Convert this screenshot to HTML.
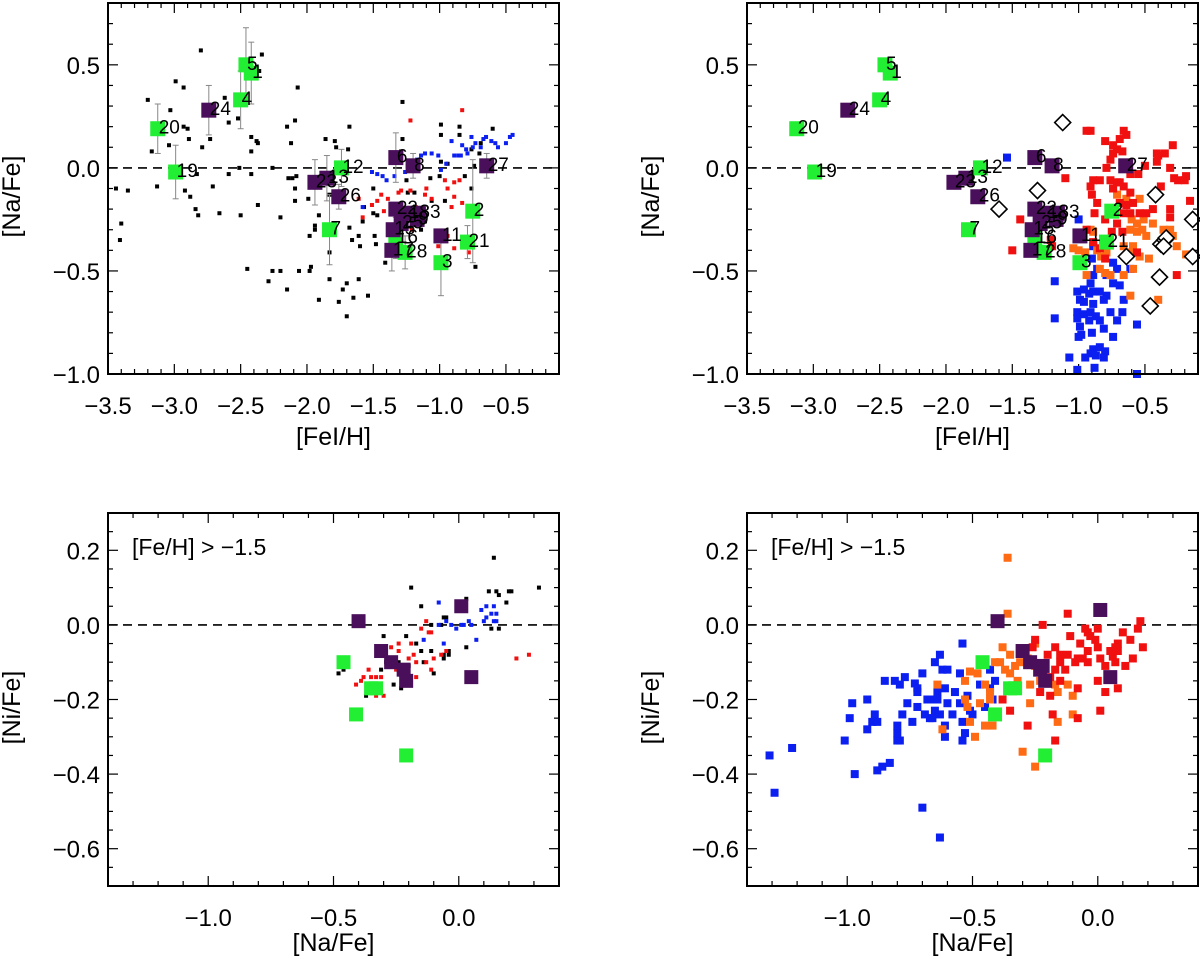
<!DOCTYPE html>
<html><head><meta charset="utf-8"><style>
html,body{margin:0;padding:0;background:#fff;}
svg{display:block;font-family:"Liberation Sans",sans-serif;}
</style></head><body>
<svg id="fig" width="1200" height="959" viewBox="0 0 1200 959" xmlns="http://www.w3.org/2000/svg"></svg>
<script>
// ---------- Shared labelled stars (top panels) ----------
const starGreenX=[-3.125,-2.99,-2.46,-2.42,-2.5,-1.83,-1.74,-0.75,-0.79,-0.99,-1.33,-1.26];
const starGreenY=[0.19,-0.02,0.50,0.46,0.33,-0.30,0.0,-0.21,-0.36,-0.46,-0.34,-0.41];
const starGreenLab=["20","19","5","1","4","7","12","2","21","3","16","28"];
const starPurpX=[-2.74,-1.94,-1.85,-1.76,-1.33,-1.2,-0.645,-1.33,-1.24,-1.16,-1.29,-1.35,-1.17,-0.99,-1.36];
const starPurpY=[0.28,-0.07,-0.05,-0.14,0.05,0.01,0.01,-0.2,-0.22,-0.22,-0.27,-0.30,-0.25,-0.33,-0.40];
const starPurpLab=["24","23","13","26","6","8","27","22","18","33","25","15","9","11","17"];
const errStar=[0.12,0.13,0.18,0.15,0.14,0.17,0.09,0.25,0.08,0.16,0.1,0.08];
const errPurp=[0.12,0.11,0.11,0.06,0.12,0.06,0.06,0,0,0,0,0,0,0,0.1];

// ---------- Top-left small samples ----------
const tlBlackX=[-3.44,-3.35,-3.4,-3.41,-3.2,-3.17,-3.13,-3.03,-3.04,-2.99,-2.93,-2.93,-2.9,-2.89,-2.83,-2.92,-2.88,-2.84,-2.82,-2.8,-2.79,-2.71,-2.73,-2.66,-2.62,-2.59,-2.59,-2.52,-2.51,-2.5,-2.5,-2.45,-2.42,-2.42,-2.42,-2.38,-2.37,-2.37,-2.34,-2.36,-2.29,-2.26,-2.2,-2.2,-2.15,-2.15,-2.12,-2.09,-2.07,-2.06,-2.14,-2.11,-2.09,-2.09,-2.08,-2.26,-1.98,-1.97,-1.98,-1.94,-1.94,-1.91,-1.99,-1.86,-1.83,-1.83,-1.83,-1.91,-1.78,-1.79,-1.76,-1.73,-1.7,-1.7,-1.69,-1.68,-1.68,-1.66,-1.65,-1.61,-1.6,-1.61,-1.54,-1.57,-1.58,-1.5,-1.5,-1.49,-1.48,-1.47,-1.41,-1.28,-1.28,-1.29,-1.25,-1.24,-1.19,-1.14,-1.11,-1.07,-1.06,-0.99,-0.99,-0.99,-1.0,-0.96,-0.94,-0.85,-0.85,-0.81,-0.76,-0.74,-0.73,-0.7,-0.6,-0.69,-0.76];
const tlBlackY=[-0.10,-0.11,-0.27,-0.35,0.33,0.08,-0.09,0.28,0.11,0.42,0.39,0.2,0.19,0.14,-0.03,-0.11,-0.14,-0.2,-0.23,0.57,0.1,-0.09,0.14,-0.22,0.34,0.22,-0.03,0.24,0.0,-0.23,0.52,-0.49,0.15,0.08,-0.03,0.13,0.12,-0.18,0.55,0.47,-0.55,-0.5,-0.5,-0.24,-0.59,0.2,0.12,0.23,0.39,-0.5,-0.05,-0.05,-0.1,-0.16,-0.04,0.0,-0.5,-0.48,-0.33,-0.28,-0.3,-0.23,-0.15,0.14,-0.13,-0.41,-0.54,-0.64,0.1,0.13,-0.65,-0.59,-0.56,-0.72,0.09,0.2,-0.29,-0.35,-0.63,-0.54,-0.38,-0.33,-0.62,-0.19,-0.26,-0.1,-0.22,-0.33,-0.37,-0.23,-0.46,0.32,0.14,0.08,-0.06,-0.12,-0.12,-0.3,-0.26,-0.05,-0.16,0.21,0.16,0.03,-0.04,-0.16,0.02,0.2,0.16,-0.04,-0.1,0.01,-0.48,0.07,0.19,0.12,0.09];
const tlBlueX=[-1.58,-1.51,-1.47,-1.43,-1.4,-1.34,-1.26,-1.24,-1.17,-1.14,-1.11,-1.06,-1.01,-0.95,-0.91,-0.89,-0.86,-0.84,-0.83,-0.8,-0.76,-0.75,-0.73,-0.69,-0.67,-0.65,-0.61,-0.58,-0.56,-0.5,-0.47,-0.45,-0.79,-0.99];
const tlBlueY=[-0.19,-0.02,-0.03,-0.04,-0.06,-0.04,-0.02,0.01,0.04,0.06,0.07,0.07,0.06,0.02,0.13,0.06,0.06,0.06,0.11,0.09,0.15,0.1,0.12,0.1,0.14,0.15,0.13,0.12,0.1,0.12,0.15,0.16,0.07,-0.01];
const tlRedX=[-1.22,-0.83,-1.61,-1.58,-1.51,-1.47,-1.44,-1.42,-1.39,-1.31,-1.29,-1.22,-1.18,-1.16,-1.11,-1.1,-1.06,-0.96,-0.94,-0.89,-0.89,-0.85,-0.83,-0.91,-0.94,-0.89,-0.78,-1.01,-1.21,-1.19];
const tlRedY=[0.23,0.28,-0.15,-0.24,-0.18,-0.16,-0.13,-0.21,-0.15,-0.12,-0.11,-0.11,-0.19,-0.25,-0.13,-0.1,-0.15,-0.06,-0.1,-0.07,-0.14,-0.06,-0.17,-0.19,-0.33,-0.39,-0.41,-0.38,-0.3,-0.23];

// ---------- Top-right samples ----------
const diamX=[-1.12,-1.6,-1.31,-0.42,-0.64,-0.39,-0.46,-0.38,-0.35,-0.34,-0.36,-0.14,-0.14];
const diamY=[0.22,-0.2,-0.11,-0.13,-0.43,-0.53,-0.67,-0.37,-0.35,-0.34,-0.38,-0.25,-0.43];
const trRedX=[-0.94,-0.91,-0.8,-0.74,-0.71,-0.66,-0.64,-0.69,-0.74,-0.67,-0.76,-0.79,-0.61,-0.55,-0.5,-0.41,-0.4,-0.35,-0.29,-0.41,-0.31,-0.28,-0.25,-0.19,-0.16,-0.2,-0.31,-0.26,-1.1,-1.44,-1.5,-0.91,-0.89,-0.9,-0.86,-0.84,-0.76,-0.74,-0.71,-0.66,-0.61,-0.69,-0.64,-0.61,-0.59,-0.54,-0.88,-0.8,-0.71,-0.66,-0.94,-0.89,-0.84,-0.75,-0.67,-0.8,-0.49,-0.44,-0.31,-0.38,-0.56,-1.21,-1.2,-0.69];
const trRedY=[0.18,0.18,0.13,0.11,0.09,0.18,0.16,0.14,0.07,0.08,0.04,0.0,-0.03,-0.03,0.01,0.07,0.06,0.07,0.11,0.03,0.0,-0.05,-0.06,-0.04,-0.16,-0.06,-0.24,-0.52,-0.05,-0.25,-0.4,-0.09,-0.06,-0.13,-0.17,-0.06,-0.06,-0.1,-0.07,-0.09,-0.12,-0.17,-0.18,-0.22,-0.17,-0.22,-0.22,-0.25,-0.27,-0.22,-0.3,-0.36,-0.39,-0.31,-0.31,-0.44,-0.22,-0.2,-0.2,-0.09,-0.41,-0.35,-0.38,-0.07];
const trOrX=[-0.91,-0.89,-1.04,-1.0,-0.95,-0.86,-0.83,-0.79,-0.94,-0.84,-0.8,-0.76,-0.74,-0.71,-0.64,-0.6,-0.56,-0.54,-0.51,-0.61,-0.56,-0.52,-0.49,-0.66,-0.61,-0.59,-0.54,-0.47,-0.59,-0.66,-0.61,-0.4,-0.44,-0.31,-0.29,-0.26,-0.19,-0.16,-0.36];
const trOrY=[-0.3,-0.31,-0.39,-0.4,-0.41,-0.4,-0.43,-0.41,-0.52,-0.49,-0.51,-0.52,-0.1,-0.13,-0.15,-0.25,-0.27,-0.15,-0.25,-0.3,-0.31,-0.3,-0.33,-0.38,-0.41,-0.38,-0.43,-0.44,-0.49,-0.52,-0.62,-0.64,-0.27,-0.3,-0.33,-0.38,-0.42,-0.42,-0.3];
const trBlueX=[-1.54,-1.0,-1.18,-1.18,-1.01,-0.96,-0.92,-0.89,-0.84,-0.79,-0.99,-0.96,-0.89,-0.81,-1.01,-0.96,-0.91,-0.87,-1.01,-0.99,-0.92,-0.84,-0.76,-0.71,-0.67,-0.66,-0.69,-0.74,-0.79,-0.89,-0.91,-0.86,-0.9,-0.74,-0.71,-1.0,-0.98,-0.9,-0.81,-0.74,-0.89,-0.84,-0.8,-0.91,-0.87,-0.81,-1.07,-0.95,-1.01,-0.88,-0.56,-0.56,-0.61,-0.89];
const trBlueY=[0.05,-0.25,-0.55,-0.73,-0.6,-0.59,-0.61,-0.6,-0.6,-0.62,-0.64,-0.65,-0.66,-0.64,-0.7,-0.71,-0.7,-0.72,-0.73,-0.77,-0.74,-0.74,-0.7,-0.74,-0.7,-0.64,-0.57,-0.56,-0.52,-0.52,-0.56,-0.49,-0.44,-0.46,-0.49,-0.82,-0.81,-0.8,-0.78,-0.82,-0.88,-0.87,-0.89,-0.9,-0.91,-0.92,-0.92,-0.92,-0.98,-0.97,-1.0,-0.76,-0.49,-0.38];

// ---------- Bottom-left ----------
const blPurpX=[-0.40,0.01,0.05,-0.31,-0.27,-0.22,-0.21];
const blPurpY=[0.01,0.05,-0.14,-0.07,-0.10,-0.12,-0.15];
const blGreenX=[-0.46,-0.35,-0.33,-0.41,-0.21];
const blGreenY=[-0.10,-0.17,-0.17,-0.24,-0.35];
const blBlackX=[-0.19,0.14,0.32,0.12,0.15,0.16,0.2,0.21,0.19,-0.15,0.03,0,-0.06,-0.05,-0.07,-0.11,0.03,0.13,0.16,-0.17,-0.21,-0.15,-0.11,-0.14,-0.1,-0.06,-0.04,-0.04,-0.3,-0.31,-0.29,-0.31,-0.26,-0.23,-0.24,-0.48,-0.46,-0.37,-0.34,-0.06,-0.2];
const blBlackY=[0.10,0.18,0.10,0.09,0.09,0.08,0.09,0.09,0.06,0.05,0.07,0.05,0.02,0.02,0.0,0.0,-0.06,-0.01,-0.01,-0.05,-0.03,-0.07,-0.07,-0.1,-0.13,-0.08,-0.08,-0.07,-0.03,-0.07,-0.1,-0.12,-0.16,-0.17,-0.1,-0.13,-0.12,-0.19,-0.18,-0.09,-0.11];
const blBlueX=[-0.08,-0.14,-0.06,-0.05,-0.03,-0.01,0.02,0.04,0.05,0.07,0.09,0.1,0.11,0.13,0.14,0.15,0.11,0.14,-0.08,0.01,0.15];
const blBlueY=[0.06,-0.04,-0.05,0.01,0.0,-0.01,0.0,0.01,0.0,-0.04,0.04,0.01,0.02,0.03,0.01,0.03,0.05,0.05,0.0,0.0,0.01];
const blRedX=[0.23,0.28,-0.13,-0.12,-0.11,-0.15,-0.24,-0.19,-0.24,-0.27,-0.2,-0.18,-0.17,-0.13,-0.1,-0.07,-0.05,-0.25,-0.22,-0.17,-0.2,-0.31,-0.33,-0.35,-0.38,-0.36,-0.41,-0.39,-0.33,-0.3,-0.11];
const blRedY=[-0.09,-0.08,0.01,-0.02,-0.02,-0.01,-0.05,-0.05,-0.07,-0.06,-0.09,-0.08,-0.1,-0.1,-0.09,-0.08,-0.07,-0.12,-0.13,-0.14,-0.15,-0.14,-0.14,-0.14,-0.14,-0.12,-0.16,-0.15,-0.19,-0.19,-0.12];

// ---------- Bottom-right ----------
const brPurpX=[-0.4,0.01,0.05,-0.3,-0.27,-0.22,-0.21,-0.23];
const brPurpY=[0.01,0.04,-0.14,-0.07,-0.1,-0.11,-0.15,-0.12];
const brGreenX=[-0.46,-0.35,-0.33,-0.41,-0.21];
const brGreenY=[-0.1,-0.17,-0.17,-0.24,-0.35];
const brBlueX=[-1.31,-1.29,-1.22,-1.01,-0.99,-0.98,-0.97,-0.92,-0.92,-0.9,-0.89,-0.88,-0.88,-0.86,-0.85,-0.83,-0.81,-0.8,-0.8,-0.79,-0.8,-0.79,-0.78,-0.77,-0.76,-0.74,-0.73,-0.72,-0.72,-0.72,-0.7,-0.7,-0.69,-0.68,-0.67,-0.66,-0.65,-0.65,-0.65,-0.64,-0.64,-0.63,-0.63,-0.63,-0.62,-0.61,-0.61,-0.61,-0.6,-0.6,-0.58,-0.57,-0.55,-0.55,-0.54,-0.54,-0.54,-0.53,-0.52,-0.51,-0.5,-0.47,-0.45,-0.43,-0.41,-0.43,-0.42];
const brBlueY=[-0.35,-0.45,-0.33,-0.31,-0.25,-0.21,-0.4,-0.2,-0.28,-0.26,-0.24,-0.26,-0.39,-0.38,-0.15,-0.37,-0.15,-0.27,-0.31,-0.31,-0.29,-0.16,-0.24,-0.14,-0.21,-0.26,-0.157,-0.17,-0.18,-0.22,-0.13,-0.49,-0.24,-0.2,-0.25,-0.25,-0.1,-0.2,-0.23,-0.18,-0.2,-0.24,-0.08,-0.57,-0.12,-0.17,-0.27,-0.3,-0.21,-0.12,-0.24,-0.18,-0.13,-0.21,-0.05,-0.26,-0.31,-0.29,-0.19,-0.23,-0.24,-0.16,-0.22,-0.12,-0.15,-0.17,-0.2];
const brOrX=[-0.36,-0.36,-0.38,-0.35,-0.25,-0.41,-0.39,-0.33,-0.37,-0.35,-0.51,-0.48,-0.53,-0.64,-0.45,-0.43,-0.53,-0.52,-0.47,-0.43,-0.27,-0.27,-0.23,-0.17,-0.16,-0.12,-0.1,-0.1,-0.51,-0.62,-0.49,-0.45,-0.42,-0.3,-0.25,-0.16,-0.32,-0.31,-0.28,-0.25];
const brOrY=[0.18,0.03,-0.06,-0.08,-0.05,-0.1,-0.1,-0.11,-0.12,-0.13,-0.125,-0.13,-0.15,-0.16,-0.16,-0.18,-0.2,-0.22,-0.21,-0.2,-0.21,-0.16,-0.15,-0.16,-0.18,-0.16,-0.19,-0.24,-0.26,-0.28,-0.3,-0.27,-0.27,-0.34,-0.38,-0.26,-0.15,-0.1,-0.09,-0.11];
const brRedX=[-0.12,-0.22,0.17,0.16,0.13,0.18,0.14,0.11,0.1,0.08,0.07,0.06,0.05,0.08,0.07,0.03,0.01,0,-0.01,0,-0.03,-0.05,-0.04,-0.07,-0.04,-0.04,-0.06,-0.08,-0.11,-0.09,-0.12,-0.15,-0.15,-0.17,-0.2,-0.25,-0.26,-0.17,-0.13,-0.19,-0.23,-0.19,-0.15,-0.08,0,0.03,0.08,0.01,-0.08,-0.18,-0.17,-0.28,-0.35,-0.38];
const brRedY=[0.03,0.0,0.01,-0.01,-0.04,-0.06,-0.09,-0.11,-0.02,-0.05,-0.06,-0.085,-0.07,-0.07,-0.1,-0.11,-0.09,-0.06,-0.04,-0.01,-0.03,-0.01,-0.02,-0.05,-0.07,-0.1,-0.09,-0.09,-0.03,-0.1,-0.08,-0.08,-0.1,-0.06,-0.08,-0.04,-0.06,-0.12,-0.12,-0.14,-0.18,-0.19,-0.15,-0.17,-0.15,-0.18,-0.17,-0.23,-0.25,-0.24,-0.31,-0.27,-0.23,-0.2];

const NS="http://www.w3.org/2000/svg";
const svg=document.getElementById('fig');
const C={black:"#000",blue:"#0b1ff0",red:"#f01010",orange:"#ff6a14",green:"#22ee33",purple:"#4a0f5a"};

function el(tag,attrs,parent){const e=document.createElementNS(NS,tag);for(const k in attrs)e.setAttribute(k,attrs[k]);(parent||svg).appendChild(e);return e;}

function panel(name,box,xr,yr,xt,yt,xminor,yminor,xtitle,ytitle,ytx,xtoff){
  const g=el('g',{});
  
  
  const sx=v=>box.l+(v-xr[0])/(xr[1]-xr[0])*(box.r-box.l);
  const sy=v=>box.b-(v-yr[0])/(yr[1]-yr[0])*(box.b-box.t);
  const P={g,sx,sy,box};
  const z=el('line',{x1:box.l,x2:box.r,y1:sy(0),y2:sy(0),stroke:'#000','stroke-width':1.6,'stroke-dasharray':'9,6'},g);
  
  
  const tg=el('g',{stroke:'#000','stroke-width':1.2},g);
  for(let v=Math.ceil(xr[0]/xminor-1e-6)*xminor;v<=xr[1]+1e-9;v+=xminor){
    const major=xt.some(t=>Math.abs(t-v)<1e-6);const L=major?10:5;const x=sx(v);
    el('line',{x1:x,x2:x,y1:box.b,y2:box.b-L},tg);el('line',{x1:x,x2:x,y1:box.t,y2:box.t+L},tg);
  }
  for(let v=Math.ceil(yr[0]/yminor-1e-6)*yminor;v<=yr[1]+1e-9;v+=yminor){
    const major=yt.some(t=>Math.abs(t-v)<1e-6);const L=major?10:5;const y=sy(v);
    el('line',{y1:y,y2:y,x1:box.l,x2:box.l+L},tg);el('line',{y1:y,y2:y,x1:box.r,x2:box.r-L},tg);
  }
  const fmt=v=>(v<0?'\u2212':'')+Math.abs(v).toFixed(1);
  xt.forEach(v=>{const t=el('text',{x:sx(v),y:box.b+40,'text-anchor':'middle','font-size':24},g);t.textContent=fmt(v);
    
    });
  yt.forEach(v=>{const t=el('text',{x:box.l-8,y:sy(v)+9,'text-anchor':'end','font-size':24},g);t.textContent=fmt(v);
    
    });
  const xtl=el('text',{x:(box.l+box.r)/2,y:box.b+xtoff,'text-anchor':'middle','font-size':25},g);xtl.textContent=xtitle;
  
  
  const cy=(box.t+box.b)/2;
  const ytl=el('text',{x:ytx,y:cy+8,'text-anchor':'middle','font-size':25,transform:`rotate(-90 ${ytx} ${cy+8})`},g);ytl.textContent=ytitle;
  
  
  P.marks=el('g',{},g);
  P.frame=()=>{const f=el('rect',{x:box.l,y:box.t,width:box.r-box.l,height:box.b-box.t,fill:'none',stroke:'#000','stroke-width':2},g);
    
    };
  return P;
}

function squares(P,xs,ys,color,size,name){
  const g=el('g',{fill:color},P.marks);
  
  
  xs.forEach((x,i)=>{
    const px=P.sx(x),py=P.sy(ys[i]);
    if(px<P.box.l-2||px>P.box.r+2||py<P.box.t-2||py>P.box.b+2)return;
    const r=el('rect',{x:px-size/2,y:py-size/2,width:size,height:size},g);
    
    
  });
}
function diamonds(P,xs,ys,name){
  const g=el('g',{fill:'#fff',stroke:'#000','stroke-width':1.6},P.marks);
  
  
  xs.forEach((x,i)=>{const px=P.sx(x),py=P.sy(ys[i]),s=8;
    const d=el('polygon',{points:`${px},${py-s} ${px+s},${py} ${px},${py+s} ${px-s},${py}`},g);
    
    });
}
function errbars(P,xs,ys,es){
  const g=el('g',{stroke:'#888','stroke-width':1},P.marks);
  
  
  xs.forEach((x,i)=>{if(!es[i])return;const px=P.sx(x),y1=P.sy(ys[i]+es[i]),y2=P.sy(ys[i]-es[i]);
    el('line',{x1:px,x2:px,y1,y2},g);el('line',{x1:px-3,x2:px+3,y1,y2:y1},g);el('line',{x1:px-3,x2:px+3,y1:y2,y2},g);});
}
function labels(P,xs,ys,labs,name){
  const g=el('g',{'font-size':19,fill:'#000'},P.marks);
  
  
  xs.forEach((x,i)=>{const t=el('text',{x:P.sx(x)+1,y:P.sy(ys[i])+5},g);t.textContent=labs[i];
    
    });
}
function note(P,txt){const t=el('text',{x:P.box.l+24,y:P.box.t+42,'font-size':23},P.g);t.textContent=txt;
  
  }

const topY=[-1.0,-0.5,0.0,0.5], topX=[-3.5,-3.0,-2.5,-2.0,-1.5,-1.0,-0.5];
const botY=[-0.6,-0.4,-0.2,0.0,0.2], botX=[-1.0,-0.5,0.0];

const TL=panel('panel-na-fe-vs-feh-left',{l:108,r:559,t:3,b:374},[-3.5,-0.1],[-1.0,0.8],topX,topY,0.1,0.1,'[FeI/H]','[Na/Fe]',20,71);
squares(TL,tlBlackX,tlBlackY,C.black,4,'literature-black');
squares(TL,tlBlueX,tlBlueY,C.blue,4,'sample-blue');
squares(TL,tlRedX,tlRedY,C.red,4,'sample-red');
errbars(TL,starGreenX,starGreenY,errStar);
errbars(TL,starPurpX,starPurpY,errPurp);
squares(TL,starGreenX,starGreenY,C.green,15,'stars-green');
squares(TL,starPurpX,starPurpY,C.purple,15,'stars-purple');
labels(TL,starGreenX,starGreenY,starGreenLab,'green-labels');
labels(TL,starPurpX,starPurpY,starPurpLab,'purple-labels');
TL.frame();

const TR=panel('panel-na-fe-vs-feh-right',{l:747,r:1198,t:3,b:374},[-3.5,-0.1],[-1.0,0.8],topX,topY,0.1,0.1,'[FeI/H]','[Na/Fe]',659,71);
squares(TR,trBlueX,trBlueY,C.blue,8,'sample-blue');
squares(TR,trOrX,trOrY,C.orange,8,'sample-orange');
squares(TR,trRedX,trRedY,C.red,8,'sample-red');
diamonds(TR,diamX,diamY,'comparison-diamonds');
squares(TR,starGreenX,starGreenY,C.green,15,'stars-green');
squares(TR,starPurpX,starPurpY,C.purple,15,'stars-purple');
labels(TR,starGreenX,starGreenY,starGreenLab,'green-labels');
labels(TR,starPurpX,starPurpY,starPurpLab,'purple-labels');
TR.frame();

const BL=panel('panel-ni-fe-vs-na-fe-left',{l:108,r:559,t:513,b:886},[-1.4,0.4],[-0.7,0.3],botX,botY,0.1,0.05,'[Na/Fe]','[Ni/Fe]',20,65);
squares(BL,blBlackX,blBlackY,C.black,4,'literature-black');
squares(BL,blBlueX,blBlueY,C.blue,4,'sample-blue');
squares(BL,blRedX,blRedY,C.red,4,'sample-red');
squares(BL,blGreenX,blGreenY,C.green,14,'stars-green');
squares(BL,blPurpX,blPurpY,C.purple,14,'stars-purple');
note(BL,'[Fe/H] > \u22121.5');
BL.frame();

const BR=panel('panel-ni-fe-vs-na-fe-right',{l:747,r:1198,t:513,b:886},[-1.4,0.4],[-0.7,0.3],botX,botY,0.1,0.05,'[Na/Fe]','[Ni/Fe]',659,65);
squares(BR,brBlueX,brBlueY,C.blue,8,'sample-blue');
squares(BR,brOrX,brOrY,C.orange,8,'sample-orange');
squares(BR,brRedX,brRedY,C.red,8,'sample-red');
squares(BR,brGreenX,brGreenY,C.green,14,'stars-green');
squares(BR,brPurpX,brPurpY,C.purple,14,'stars-purple');
note(BR,'[Fe/H] > \u22121.5');
BR.frame();
</script>
</body></html>
